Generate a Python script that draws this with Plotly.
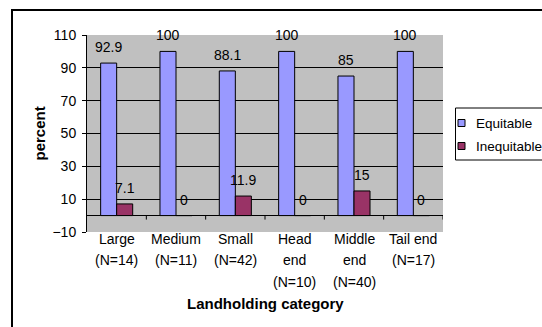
import plotly.graph_objects as go

# Share of respondents rating water distribution, by landholding / canal position
categories = ["Large", "Medium", "Small", "Head end", "Middle end", "Tail end"]
tick_labels = [
    "Large<br>(N=14)",
    "Medium<br>(N=11)",
    "Small<br>(N=42)",
    "Head<br>end<br>(N=10)",
    "Middle<br>end<br>(N=40)",
    "Tail end<br>(N=17)",
]
equitable = [92.9, 100, 88.1, 100, 85, 100]
inequitable = [7.1, 0, 11.9, 0, 15, 0]
y_ticks = [-10, 10, 30, 50, 70, 90, 110]

series = [("Equitable", equitable, "#9999FF"), ("Inequitable", inequitable, "#993366")]

FONT = "Liberation Sans, Arial, sans-serif"
W, H = 542, 327
L, R, T, B = 87, 443, 35, 232          # plot area in pixels
PW, PH = R - L, B - T


def px_x(px):
    return (px - L) / PW


def px_y(py):
    return (B - py) / PH


BARGAP = 0.46
bar_px = PW / len(categories) * (1 - BARGAP) / 2

fig = go.Figure()
for name, vals, color in series:
    fig.add_trace(go.Bar(
        x=categories, y=vals, name=name,
        marker=dict(color=color, line=dict(color="black", width=1)),
        showlegend=False,
    ))

annotations = []
# value labels above each bar
for k, (name, vals, color) in enumerate(series):
    shift = (-0.5 + k) * bar_px
    for c, v in zip(categories, vals):
        annotations.append(dict(
            x=c, y=v, xref="x", yref="y", text=f"{v:g}", showarrow=False,
            xshift=shift, yshift=16, yanchor="middle", xanchor="center",
            font=dict(family=FONT, size=14, color="black"),
        ))

# multi-line category labels under the axis
LINE_GAP = 21.3
for c, lab in zip(categories, tick_labels):
    for j, line in enumerate(lab.split("<br>")):
        annotations.append(dict(
            x=c, y=0, xref="x", yref="paper", text=line, showarrow=False,
            yshift=-7 - LINE_GAP * j, yanchor="middle", xanchor="center",
            font=dict(family=FONT, size=14, color="black"),
        ))

# axis titles
annotations.append(dict(
    x=px_x(265.5), y=px_y(303), xref="paper", yref="paper",
    text="<b>Landholding category</b>", showarrow=False,
    xanchor="center", yanchor="middle",
    font=dict(family=FONT, size=15, color="black"),
))
annotations.append(dict(
    x=px_x(39), y=0.5, xref="paper", yref="paper",
    text="<b>percent</b>", showarrow=False, textangle=-90,
    xanchor="center", yanchor="middle",
    font=dict(family=FONT, size=15, color="black"),
))

# legend
legend_rows = [(123, "Equitable", "#9999FF"), (146, "Inequitable", "#993366")]
shapes = []
for cy, name, color in legend_rows:
    shapes.append(dict(
        type="rect", xref="paper", yref="paper",
        x0=px_x(458), x1=px_x(465), y0=px_y(cy + 3.5), y1=px_y(cy - 3.5),
        fillcolor=color, line=dict(color="black", width=1),
    ))
    annotations.append(dict(
        x=px_x(474), y=px_y(cy), xref="paper", yref="paper", text=name,
        showarrow=False, xanchor="left", yanchor="middle",
        font=dict(family=FONT, size=13.5, color="black"),
    ))
shapes.append(dict(
    type="rect", xref="paper", yref="paper",
    x0=px_x(455.5), x1=px_x(560), y0=px_y(160), y1=px_y(108),
    line=dict(color="black", width=1), fillcolor="rgba(0,0,0,0)",
))

# category boundary ticks hanging from the zero line
for i in range(1, len(categories) + 1):
    shapes.append(dict(
        type="line", xref="x", yref="y", ysizemode="pixel", yanchor=0,
        x0=i - 0.5, x1=i - 0.5, y0=0, y1=-4,
        line=dict(color="black", width=1),
    ))

# chart frame
shapes.append(dict(
    type="rect", xref="paper", yref="paper",
    x0=px_x(12), x1=px_x(560), y0=px_y(345), y1=px_y(10),
    line=dict(color="black", width=2), fillcolor="rgba(0,0,0,0)", layer="above",
))

fig.update_layout(
    width=W, height=H,
    margin=dict(l=L, r=W - R, t=T, b=H - B, pad=0),
    paper_bgcolor="white", plot_bgcolor="#C0C0C0",
    barmode="group", bargap=BARGAP, bargroupgap=0,
    font=dict(family=FONT, size=14, color="black"),
    showlegend=False,
    annotations=annotations, shapes=shapes,
)
fig.update_xaxes(
    range=[-0.5, len(categories) - 0.5], showticklabels=False, ticks="",
    showgrid=False, showline=False, zeroline=False,
)
fig.update_yaxes(
    range=[-10, 110], tickvals=y_ticks, ticks="outside", ticklen=4,
    tickcolor="black", ticklabelstandoff=3, showline=True, linecolor="black",
    linewidth=1, showgrid=True, gridcolor="black", gridwidth=1,
    zeroline=True, zerolinecolor="black", zerolinewidth=1,
    tickfont=dict(family=FONT, size=14, color="black"),
)

fig.write_html("out.html")
